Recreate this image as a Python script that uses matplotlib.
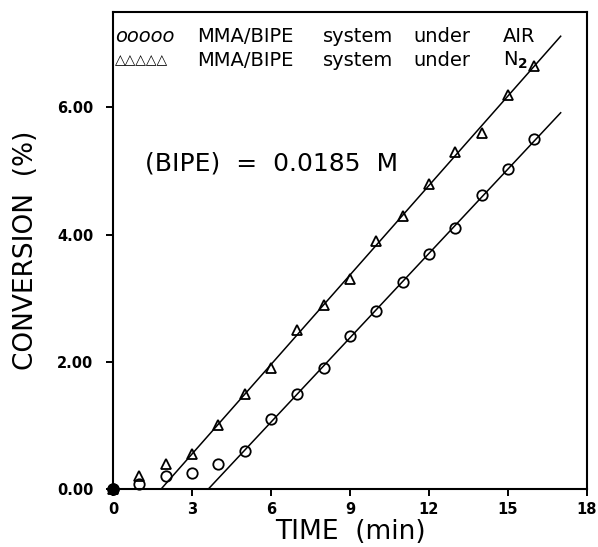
import numpy as np
import matplotlib
matplotlib.use("Agg")
import matplotlib.pyplot as plt

plt.rcParams['font.family'] = ['DejaVu Sans']
plt.rcParams['mathtext.fontset'] = 'dejavusans'

# ---- data ----
time_min = [0, 1, 2, 3, 4, 5, 6, 7, 8, 9, 10, 11, 12, 13, 14, 15, 16]
conv_air = [0.0, 0.08, 0.20, 0.25, 0.40, 0.60, 1.10, 1.50, 1.90, 2.40, 2.80,
            3.25, 3.70, 4.10, 4.62, 5.03, 5.50]
conv_n2 = [0.0, 0.20, 0.40, 0.55, 1.00, 1.50, 1.90, 2.50, 2.90, 3.30, 3.90,
           4.30, 4.80, 5.30, 5.60, 6.20, 6.65]
fit_start_air = 5      # first time of linear region (air)
fit_start_n2 = 3       # first time of linear region (N2)
fit_end = 17.0         # end of drawn fit lines
xticks = [0, 3, 6, 9, 12, 15, 18]
yticks = [0, 2, 4, 6]
ytick_labels = ["0.00", "2.00", "4.00", "6.00"]

W, H = 598, 547
fig = plt.figure(figsize=(W / 100, H / 100), dpi=100)
ax = fig.add_axes([113 / W, 1 - 489 / H, (587 - 113) / W, (489 - 12) / H])

t = np.array(time_min, dtype=float)
for y, start, mk, ms in [(np.array(conv_air), fit_start_air, 'o', 7.5),
                         (np.array(conv_n2), fit_start_n2, '^', 7)]:
    m = t >= start
    slope, icpt = np.polyfit(t[m], y[m], 1)
    x0 = -icpt / slope
    xs = np.array([x0, fit_end])
    ax.plot(xs, slope * xs + icpt, color='black', lw=1.1)
    ax.plot(t, y, linestyle='none', marker=mk, ms=ms, mfc='none', mec='black',
            mew=1.3, clip_on=False)
# origin point drawn as a filled dot, as in the original
ax.plot(t[:1], np.array(conv_air[:1]), linestyle='none', marker='o', ms=8,
        color='black', clip_on=False, zorder=5)

ax.set_xlim(0, 18)
ax.set_ylim(0, 7.5)
ax.set_xticks(xticks)
ax.set_yticks(yticks)
ax.set_yticklabels(ytick_labels)
for lab in ax.get_xticklabels() + ax.get_yticklabels():
    lab.set_fontweight('bold')
    lab.set_fontsize(10.5)
ax.tick_params(axis='y', direction='out', length=5, width=1.4, pad=9)
ax.tick_params(axis='x', direction='out', length=5, width=1.4, pad=4)
ax.tick_params(top=False, right=False)
for s in ax.spines.values():
    s.set_linewidth(1.5)

ax.set_xlabel("TIME  (min)", fontsize=19, labelpad=2)
ax.set_ylabel("CONVERSION  (%)", fontsize=19, labelpad=13)

ax.text((145 - 113) / (587 - 113), 1 - (164 - 12) / (489 - 12),
        "(BIPE)  =  0.0185  M", transform=ax.transAxes, fontsize=18,
        ha='left', va='center')

# legend-like text lines
fs = 14
def ftext(xpx, ypx, s, **kw):
    kw.setdefault('fontsize', fs)
    fig.text(xpx / W, 1 - ypx / H, s, ha='left', va='center', **kw)

ftext(115, 37, "ooooo", style='italic')
ftext(115, 60, "\u25b3\u25b3\u25b3\u25b3\u25b3", fontsize=10)
for ypx, last in [(37, "AIR"), (60, "N$_\\mathbf{2}$")]:
    ftext(197, ypx, "MMA/BIPE")
    ftext(323, ypx, "system")
    ftext(413, ypx, "under")
    ftext(503, ypx, last)

fig.savefig("out.png", dpi=100)
